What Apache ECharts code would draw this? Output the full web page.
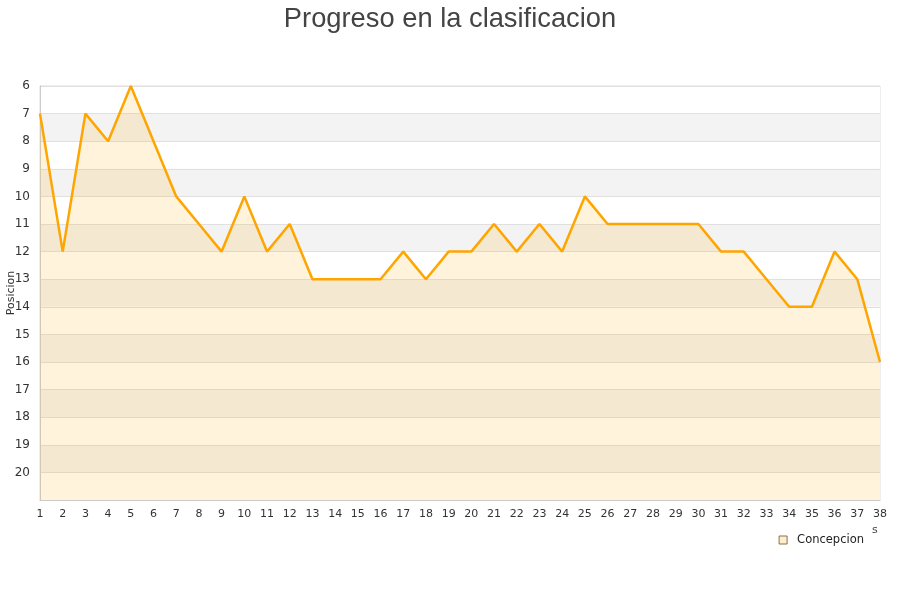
<!DOCTYPE html>
<html>
<head>
<meta charset="utf-8">
<script src="https://cdn.jsdelivr.net/npm/echarts@6/dist/echarts.min.js"></script>
<style>html,body{margin:0;padding:0;background:#fff}#c{width:900px;height:600px}</style>
</head>
<body>
<div id="c"></div>
<script>
const jornadas = ['1','2','3','4','5','6','7','8','9','10','11','12','13','14','15','16','17','18','19','20','21','22','23','24','25','26','27','28','29','30','31','32','33','34','35','36','37','38'];
const posiciones = [7,12,7,8,6,8,10,11,12,10,12,11,13,13,13,13,12,13,12,12,11,12,11,12,10,11,11,11,11,11,12,12,13,14,14,12,13,16];
const equipo = 'Concepcion';
const titulo = 'Progreso en la clasificacion';

const chart = echarts.init(document.getElementById('c'));
chart.setOption({
  animation: false,
  title: {
    text: titulo, left: 'center', top: 1,
    textStyle: {fontFamily: 'Liberation Sans', fontSize: 27.3, fontWeight: 'normal', color: '#444'}
  },
  legend: {
    data: [{name: equipo, icon: 'rect'}],
    right: 31, top: 529, itemWidth: 8, itemHeight: 8, itemGap: 9,
    itemStyle: {color: '#FFEECC', borderColor: '#8a7050', borderWidth: 1},
    textStyle: {fontFamily: 'DejaVu Sans', fontSize: 11.5, color: '#222', padding: [0, 0, 0, 5]}
  },
  graphic: [{type: 'text', left: 872, top: 525, style: {text: 's', font: '11px DejaVu Sans', fill: '#444'}}],
  grid: {left: 40, right: 20, top: 86, bottom: 100, show: true, borderColor: '#ddd', borderWidth: 1, backgroundColor: 'transparent', outerBoundsMode: 'none', containLabel: false},
  xAxis: {
    type: 'category', data: jornadas, boundaryGap: false,
    axisLine: {lineStyle: {color: '#ccc'}}, axisTick: {show: false},
    axisLabel: {fontFamily: 'DejaVu Sans', fontSize: 11, color: '#333', margin: 9},
    splitLine: {show: false}
  },
  yAxis: {
    type: 'value', inverse: true, min: 6, max: 21, interval: 1,
    name: 'Posicion', nameLocation: 'middle', nameGap: 23, nameMoveOverlap: false,
    nameTextStyle: {fontFamily: 'DejaVu Sans', fontSize: 11, color: '#333'},
    axisLine: {show: true, lineStyle: {color: '#ccc'}}, axisTick: {show: false},
    axisLabel: {fontFamily: 'DejaVu Sans', fontSize: 12, color: '#333', margin: 10,
      formatter: v => v === 21 ? '' : String(v)},
    splitLine: {show: true, lineStyle: {color: '#e0e0e0', width: 1}},
    splitArea: {show: true, areaStyle: {color: ['#ffffff', '#f3f3f3']}}
  },
  series: [{
    name: equipo, type: 'line', data: posiciones,
    showSymbol: false, symbol: 'none',
    lineStyle: {color: '#FFA500', width: 2.5},
    itemStyle: {color: '#FFA500'},
    areaStyle: {color: 'rgba(255,170,0,0.2)', origin: 'end'},
    z: 3
  }]
});
</script>
</body>
</html>
